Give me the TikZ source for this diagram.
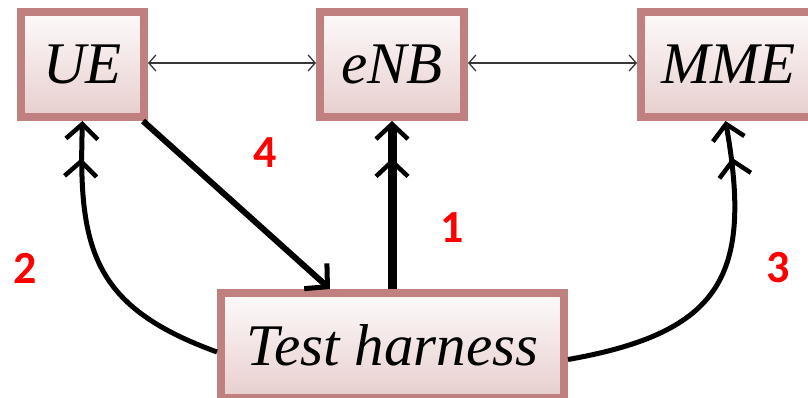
\documentclass[tikz,border=0pt]{standalone}
\usepackage{fontspec}
\setmainfont{Liberation Serif}
\newfontfamily\numfont{Carlito}
\usetikzlibrary{arrows.meta}
\definecolor{boxborder}{RGB}{193,128,128}
\definecolor{boxtop}{RGB}{253,250,250}
\definecolor{boxbottom}{RGB}{232,206,206}
\definecolor{thinarrow}{RGB}{55,55,55}
\tikzset{
  entity/.style={rectangle, draw=boxborder, line width=8pt, inner sep=0pt,
    top color=boxtop, bottom color=boxbottom, minimum height=105pt,
    font=\fontsize{59}{59}\selectfont\itshape},
  link/.style={thinarrow, line width=1.8pt,
    {Straight Barb[length=7pt,width=16pt,line width=1.3pt]}-{Straight Barb[length=7pt,width=16pt,line width=1.3pt]}},
  dbltip/.style={-{Straight Barb[length=15pt,width=32pt,line width=4.5pt,sep=17pt]Straight Barb[length=15pt,width=32pt,line width=4.5pt]}},
  step label/.style={text=red, font=\numfont\bfseries\fontsize{46}{46}\selectfont},
}
\begin{document}
\begin{tikzpicture}[x=1pt,y=-1pt]
  \useasboundingbox (0,0) rectangle (808,398);
  \clip (0,0) rectangle (808,398);
  % entities
  \node[entity, minimum width=123pt] (ue)  at (82.5,64.5)  {UE};
  \node[entity, minimum width=144pt] (enb) at (392,64.5)   {eNB};
  \node[entity, minimum width=175pt] (mme) at (728.5,64.5) {MME};
  \node[entity, minimum width=343pt] (th)  at (392.5,345.5) {Test harness};
  % thin links between the entities
  \draw[link] ([yshift=1.5pt]ue.east) -- ([yshift=1.5pt]enb.west);
  \draw[link] ([yshift=1.5pt]enb.east) -- ([yshift=1.5pt]mme.west);
  % step 1
  \draw[line width=9pt, dbltip] (th.north -| enb.south) -- (enb.south);
  % step 2
  \draw[line width=5pt, dbltip] ([yshift=-6.5pt]th.west) to[out=160,in=-92,looseness=1.25] (ue.south);
  % step 3
  \draw[line width=5pt, dbltip] ([yshift=-14pt]th.east) to[out=10,in=-80,looseness=1.4] ([xshift=-3pt]mme.south);
  % step 4
  \draw[line width=6pt, -{Straight Barb[length=16pt,width=34pt,line width=5pt]}]
    ([xshift=-5pt]ue.south east) -- ([xshift=-62.5pt]th.north);
  % step numbers
  \node[step label] (n4) at (265,153) {4};
  \node[step label] (n1) at (452,228) {1};
  \node[step label] (n2) at (25,268) {2};
  \node[step label] (n3) at (778,268) {3};
\end{tikzpicture}
\end{document}
